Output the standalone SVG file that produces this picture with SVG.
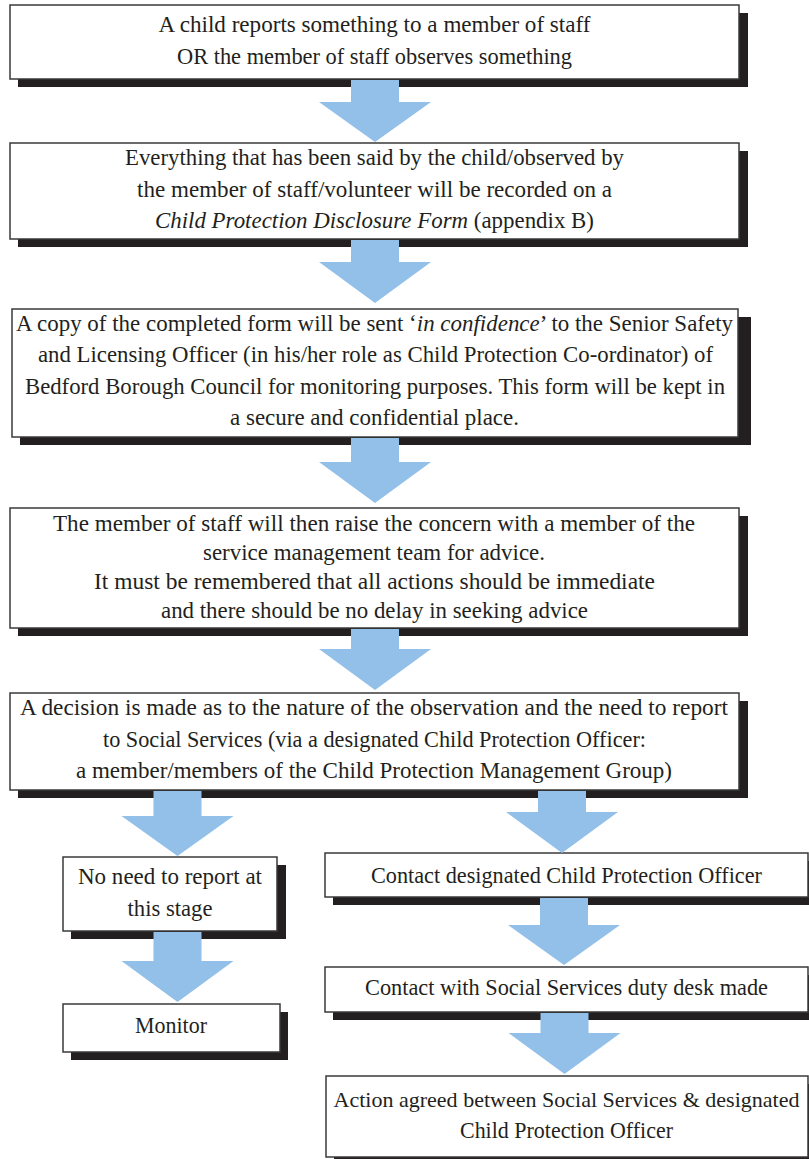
<svg xmlns="http://www.w3.org/2000/svg" width="809" height="1159" viewBox="0 0 809 1159">
<style>
.bg{fill:#ffffff}
.sh{fill:#231f20}
.box{fill:#ffffff;stroke:#3a3a3a;stroke-width:1.5}
.arr{fill:#92c0e8}
text{font-family:"Liberation Serif","Times New Roman",serif;font-size:23px;fill:#231f20;text-anchor:middle}
.it{font-style:italic}
</style>
<rect class="bg" x="0" y="0" width="809" height="1159"/>

<g id="n1">
<rect class="sh" x="18" y="13" width="730" height="74"/>
<rect class="box" x="10" y="5" width="729" height="74"/>
<text x="374.5" y="32" textLength="432" lengthAdjust="spacingAndGlyphs">A child reports something to a member of staff</text>
<text x="374.5" y="64" textLength="395" lengthAdjust="spacingAndGlyphs">OR the member of staff observes something</text>
</g>

<g id="n2">
<rect class="sh" x="18" y="151" width="730" height="96"/>
<rect class="box" x="10" y="143" width="729" height="96"/>
<text x="374.5" y="165" textLength="499" lengthAdjust="spacingAndGlyphs">Everything that has been said by the child/observed by</text>
<text x="374.5" y="197" textLength="475" lengthAdjust="spacingAndGlyphs">the member of staff/volunteer will be recorded on a</text>
<text x="374.5" y="228" textLength="439" lengthAdjust="spacingAndGlyphs"><tspan class="it">Child Protection Disclosure Form</tspan> (appendix B)</text>
</g>

<g id="n3">
<rect class="sh" x="20" y="317" width="731" height="128"/>
<rect class="box" x="12" y="309" width="726" height="128"/>
<text x="374.5" y="331" textLength="717" lengthAdjust="spacingAndGlyphs">A copy of the completed form will be sent ‘<tspan class="it">in confidence</tspan>’ to the  Senior Safety</text>
<text x="375.5" y="362" textLength="675" lengthAdjust="spacingAndGlyphs">and Licensing Officer (in his/her role as Child Protection Co-ordinator) of</text>
<text x="375" y="394" textLength="700" lengthAdjust="spacingAndGlyphs">Bedford Borough Council for monitoring purposes. This form will be kept in</text>
<text x="374.5" y="425" textLength="289" lengthAdjust="spacingAndGlyphs">a secure and confidential place.</text>
</g>

<g id="n4">
<rect class="sh" x="18" y="516" width="730" height="120"/>
<rect class="box" x="10" y="508" width="729" height="120"/>
<text x="374" y="531" textLength="642" lengthAdjust="spacingAndGlyphs">The member of staff will then raise the concern with a member of the</text>
<text x="374" y="560" textLength="342" lengthAdjust="spacingAndGlyphs">service management team for advice.</text>
<text x="374.5" y="589" textLength="561" lengthAdjust="spacingAndGlyphs">It must be remembered that all actions should be immediate</text>
<text x="374.5" y="618" textLength="427" lengthAdjust="spacingAndGlyphs">and there should be no delay in seeking advice</text>
</g>

<g id="n5">
<rect class="sh" x="18" y="701" width="730" height="97"/>
<rect class="box" x="10" y="693" width="729" height="97"/>
<text x="374" y="715" textLength="708" lengthAdjust="spacingAndGlyphs">A decision is made as to the nature of the observation and the need to report</text>
<text x="374.5" y="747" textLength="543" lengthAdjust="spacingAndGlyphs">to Social Services (via a designated Child Protection Officer:</text>
<text x="374" y="778" textLength="596" lengthAdjust="spacingAndGlyphs">a member/members of the Child Protection Management Group)</text>
</g>

<g id="n6">
<rect class="sh" x="71" y="865" width="215" height="74"/>
<rect class="box" x="63" y="857" width="214" height="74"/>
<text x="170" y="884" textLength="184" lengthAdjust="spacingAndGlyphs">No need to report at</text>
<text x="170" y="916" textLength="85" lengthAdjust="spacingAndGlyphs">this stage</text>
</g>

<g id="n7">
<rect class="sh" x="71" y="1012" width="217" height="48"/>
<rect class="box" x="63" y="1004" width="217" height="48"/>
<text x="171" y="1033" textLength="72" lengthAdjust="spacingAndGlyphs">Monitor</text>
</g>

<g id="n8">
<rect class="sh" x="333" y="861" width="476" height="44"/>
<rect class="box" x="325" y="853" width="483" height="44"/>
<text x="566.5" y="883" textLength="391" lengthAdjust="spacingAndGlyphs">Contact designated Child Protection Officer</text>
</g>

<g id="n9">
<rect class="sh" x="333" y="975" width="476" height="45"/>
<rect class="box" x="325" y="967" width="483" height="45"/>
<text x="566.5" y="995" textLength="403" lengthAdjust="spacingAndGlyphs">Contact with Social Services duty desk made</text>
</g>

<g id="n10">
<rect class="sh" x="334" y="1084" width="475" height="75"/>
<rect class="box" x="326" y="1076" width="482" height="81"/>
<text x="566.5" y="1107" style="font-size:22px" textLength="466" lengthAdjust="spacingAndGlyphs">Action agreed between Social Services &amp; designated</text>
<text x="566.5" y="1138" textLength="213" lengthAdjust="spacingAndGlyphs">Child Protection Officer</text>
</g>

<g id="connectors">
<path class="arr" d="M351,80 H399 V102 H431 L375,142 L319,102 H351 Z"/>
<path class="arr" d="M351,240 H399 V262 H431 L375,303 L319,262 H351 Z"/>
<path class="arr" d="M351,438 H399 V462 H431 L375,503 L319,462 H351 Z"/>
<path class="arr" d="M351,629 H399 V649 H431 L375,690 L319,649 H351 Z"/>
<path class="arr" d="M153.5,791 H201.5 V816 H233.5 L177.5,856 L121.5,816 H153.5 Z"/>
<path class="arr" d="M538,791 H586 V812 H618 L562,853 L506,812 H538 Z"/>
<path class="arr" d="M153.5,932 H201.5 V961 H233.5 L177.5,1002 L121.5,961 H153.5 Z"/>
<path class="arr" d="M540,898 H588 V925 H620 L564,965 L508,925 H540 Z"/>
<path class="arr" d="M540.5,1013 H588.5 V1033 H620.5 L564.5,1074 L508.5,1033 H540.5 Z"/>
</g>
</svg>
